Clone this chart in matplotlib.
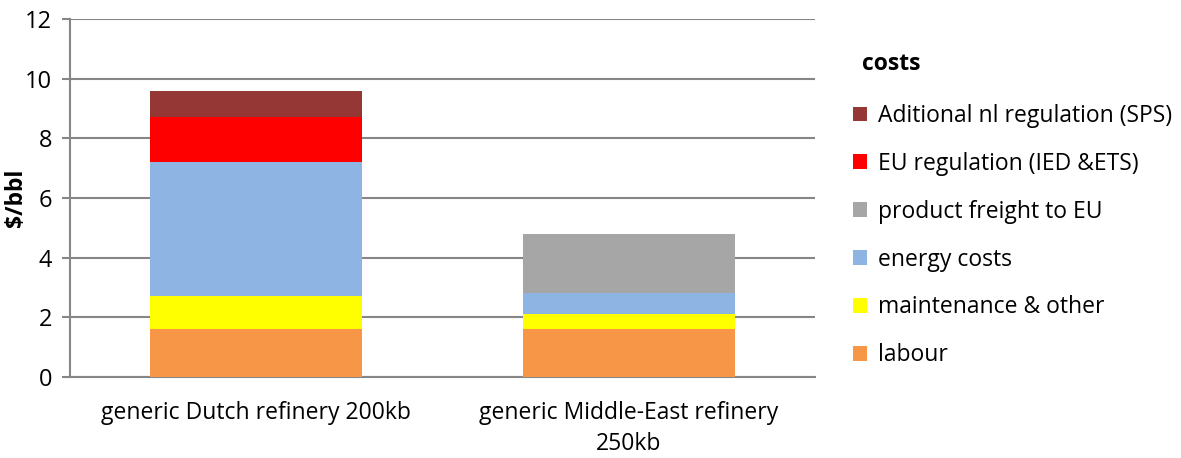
import matplotlib
matplotlib.use("Agg")
import matplotlib.pyplot as plt
import numpy as np

plt.rcParams['font.family'] = ['Open Sans', 'DejaVu Sans']

# data
categories = ["generic Dutch refinery 200kb", "generic Middle-East refinery\n250kb"]
series = ["labour", "maintenance & other", "energy costs", "product freight to EU",
          "EU regulation (IED &ETS)", "Aditional nl regulation (SPS)"]
labour = [1.6, 1.6]
maintenance = [1.1, 0.5]
energy = [4.5, 0.7]
freight = [0.0, 2.0]
eu_reg = [1.5, 0.0]
nl_reg = [0.9, 0.0]
colors = ["#F79646", "#FFFF00", "#8EB4E3", "#A6A6A6", "#FF0000", "#953735"]

values = [labour, maintenance, energy, freight, eu_reg, nl_reg]

fig = plt.figure(figsize=(11.81, 4.58), dpi=100)
ax = fig.add_axes([70/1181, 1 - 377/458, (815-70)/1181, (377-19)/458])

x = np.arange(len(categories))
bottom = np.zeros(len(categories))
handles = []
for vals, name, c in zip(values, series, colors):
    b = ax.bar(x, vals, width=0.57, bottom=bottom, color=c, label=name, zorder=3)
    handles.append(b)
    bottom += np.array(vals)

ax.set_xlim(-0.5, 1.5)
ax.set_ylim(0, 12)
ax.set_yticks(range(0, 13, 2))
ax.yaxis.grid(True, color="#868686", linewidth=1.5, zorder=0)
ax.set_axisbelow(True)
for s in ["top", "right"]:
    ax.spines[s].set_visible(False)
ax.spines["left"].set_color("#868686")
ax.spines["bottom"].set_color("#868686")
ax.spines["left"].set_linewidth(1.5)
ax.spines["bottom"].set_linewidth(1.5)
ax.tick_params(axis="y", length=6, color="#868686", width=1.5, labelsize=17, pad=7)
ax.tick_params(axis="x", length=0, labelsize=16.5, pad=17)
ax.set_xticks(x)
ax.set_xticklabels(categories, linespacing=1.4)
ax.set_ylabel("$/bbl", fontsize=16.5, fontweight="bold")
ax.yaxis.set_label_coords(-0.056, 0.5)

fig.text(862/1181, 1 - 64/458, "costs", fontsize=16.5, fontweight="bold", va="center", ha="left")
leg = fig.legend(handles[::-1], series[::-1], loc="upper left",
                 bbox_to_anchor=(853/1181, 1 - 104/458), frameon=False, fontsize=16.5,
                 borderpad=0, borderaxespad=0,
                 handlelength=0.62, handleheight=0.62, handletextpad=0.45, labelspacing=1.04)

fig.savefig("out.png", dpi=100)
